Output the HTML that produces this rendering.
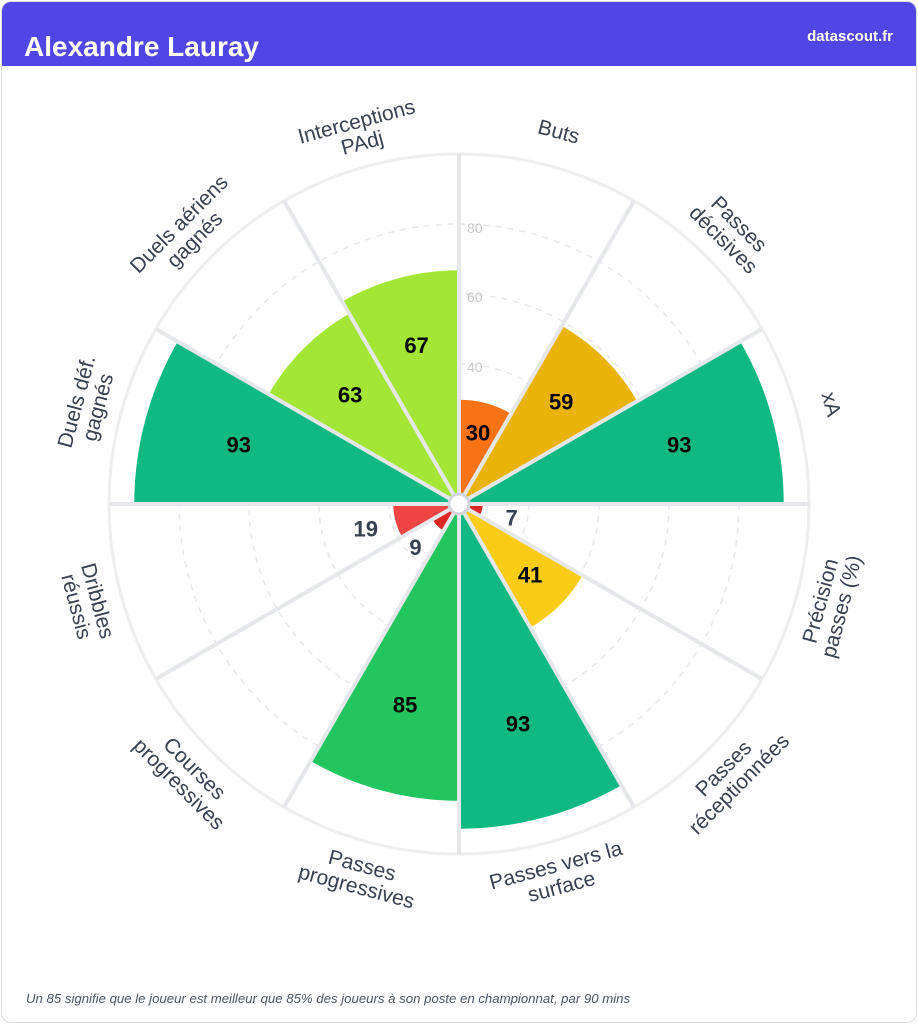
<!DOCTYPE html>
<html><head><meta charset="utf-8"><style>
body{margin:0;background:#fff;width:918px;height:1024px;overflow:hidden;font-family:"Liberation Sans",sans-serif}
.card{position:absolute;left:1px;top:1px;width:914px;height:1020px;border:1px solid #ddd;border-radius:10px;overflow:hidden}
.hd{position:absolute;left:0;top:0;width:914px;height:64px;background:#4f46e5}
.t{position:absolute;left:22px;top:29px;color:#fff;font-weight:bold;font-size:28px}
.d{position:absolute;right:23px;top:26px;color:#fff;font-weight:bold;font-size:15px}
.f{position:absolute;left:24px;top:989px;font-style:italic;font-size:13.2px;color:#4b5563}
svg{position:absolute;left:0;top:0}
</style></head><body>
<div class="card"><div class="hd"><div class="t">Alexandre Lauray</div><div class="d">datascout.fr</div></div>
<div class="f">Un 85 signifie que le joueur est meilleur que 85% des joueurs à son poste en championnat, par 90 mins</div></div>
<svg width="918" height="1024">
<g transform="translate(459,504)">
<g fill="none" stroke="#e5e7eb" stroke-width="1.5" stroke-dasharray="6,6">
<circle r="70"/><circle r="140"/><circle r="210"/><circle r="280"/></g>
<circle r="350" fill="none" stroke="#eeeeee" stroke-width="3"/>
<g font-size="14" fill="#c8c8c8"><text x="8" y="-132">40</text><text x="8" y="-202">60</text><text x="8" y="-271">80</text></g>
<g stroke="#fff" stroke-width="1.5">
<path transform="rotate(0)" fill="#f97316" d="M0,0 L0,-105 A105,105 0 0 1 52.5,-90.93Z"/>
<path transform="rotate(30)" fill="#eab308" d="M0,0 L0,-206.5 A206.5,206.5 0 0 1 103.25,-178.83Z"/>
<path transform="rotate(60)" fill="#10b981" d="M0,0 L0,-325.5 A325.5,325.5 0 0 1 162.75,-281.89Z"/>
<path transform="rotate(90)" fill="#dc2626" d="M0,0 L0,-24.5 A24.5,24.5 0 0 1 12.25,-21.22Z"/>
<path transform="rotate(120)" fill="#facc15" d="M0,0 L0,-143.5 A143.5,143.5 0 0 1 71.75,-124.27Z"/>
<path transform="rotate(150)" fill="#10b981" d="M0,0 L0,-325.5 A325.5,325.5 0 0 1 162.75,-281.89Z"/>
<path transform="rotate(180)" fill="#22c55e" d="M0,0 L0,-297.5 A297.5,297.5 0 0 1 148.75,-257.64Z"/>
<path transform="rotate(210)" fill="#dc2626" d="M0,0 L0,-31.5 A31.5,31.5 0 0 1 15.75,-27.28Z"/>
<path transform="rotate(240)" fill="#ef4444" d="M0,0 L0,-66.5 A66.5,66.5 0 0 1 33.25,-57.59Z"/>
<path transform="rotate(270)" fill="#10b981" d="M0,0 L0,-325.5 A325.5,325.5 0 0 1 162.75,-281.89Z"/>
<path transform="rotate(300)" fill="#a3e635" d="M0,0 L0,-220.5 A220.5,220.5 0 0 1 110.25,-190.96Z"/>
<path transform="rotate(330)" fill="#a3e635" d="M0,0 L0,-234.5 A234.5,234.5 0 0 1 117.25,-203.09Z"/>
</g>
<g stroke="#e5e7eb" stroke-width="4">
<line y2="-350" transform="rotate(0)"/><line y2="-350" transform="rotate(30)"/><line y2="-350" transform="rotate(60)"/>
<line y2="-350" transform="rotate(90)"/><line y2="-350" transform="rotate(120)"/><line y2="-350" transform="rotate(150)"/>
<line y2="-350" transform="rotate(180)"/><line y2="-350" transform="rotate(210)"/><line y2="-350" transform="rotate(240)"/>
<line y2="-350" transform="rotate(270)"/><line y2="-350" transform="rotate(300)"/><line y2="-350" transform="rotate(330)"/>
</g>
<circle r="10" fill="#fff" stroke="#d1d5db" stroke-width="3"/>
<g font-size="22" font-weight="bold" text-anchor="middle" dominant-baseline="central">
<text transform="rotate(15) translate(0,-73.5) rotate(-15)">30</text>
<text transform="rotate(45) translate(0,-144.5) rotate(-45)">59</text>
<text transform="rotate(75) translate(0,-228) rotate(-75)">93</text>
<text fill="#374151" transform="rotate(105) translate(0,-54.5) rotate(-105)">7</text>
<text transform="rotate(135) translate(0,-100.5) rotate(-135)">41</text>
<text transform="rotate(165) translate(0,-228) rotate(-165)">93</text>
<text transform="rotate(195) translate(0,-208) rotate(-195)">85</text>
<text fill="#374151" transform="rotate(225) translate(0,-61.5) rotate(-225)">9</text>
<text fill="#374151" transform="rotate(255) translate(0,-96.5) rotate(-255)">19</text>
<text transform="rotate(285) translate(0,-228) rotate(-285)">93</text>
<text transform="rotate(315) translate(0,-154) rotate(-315)">63</text>
<text transform="rotate(345) translate(0,-164) rotate(-345)">67</text>
</g>
<g font-size="21" fill="#374151" text-anchor="middle" dominant-baseline="central">
<text transform="rotate(15) translate(0,-385)">Buts</text>
<text transform="rotate(45) translate(0,-385)"><tspan x="0" dy="-11">Passes</tspan><tspan x="0" dy="22">décisives</tspan></text>
<text transform="rotate(75) translate(0,-385)">xA</text>
<text transform="rotate(105) translate(0,-385) rotate(180)"><tspan x="0" dy="-11">Précision</tspan><tspan x="0" dy="22">passes (%)</tspan></text>
<text transform="rotate(135) translate(0,-385) rotate(180)"><tspan x="0" dy="-11">Passes</tspan><tspan x="0" dy="22">réceptionnées</tspan></text>
<text transform="rotate(165) translate(0,-385) rotate(180)"><tspan x="0" dy="-11">Passes vers la</tspan><tspan x="0" dy="22">surface</tspan></text>
<text transform="rotate(195) translate(0,-385) rotate(180)"><tspan x="0" dy="-11">Passes</tspan><tspan x="0" dy="22">progressives</tspan></text>
<text transform="rotate(225) translate(0,-385) rotate(180)"><tspan x="0" dy="-11">Courses</tspan><tspan x="0" dy="22">progressives</tspan></text>
<text transform="rotate(255) translate(0,-385) rotate(180)"><tspan x="0" dy="-11">Dribbles</tspan><tspan x="0" dy="22">réussis</tspan></text>
<text transform="rotate(285) translate(0,-385)"><tspan x="0" dy="-11">Duels déf.</tspan><tspan x="0" dy="22">gagnés</tspan></text>
<text transform="rotate(315) translate(0,-385)"><tspan x="0" dy="-11">Duels aériens</tspan><tspan x="0" dy="22">gagnés</tspan></text>
<text transform="rotate(345) translate(0,-385)"><tspan x="0" dy="-11">Interceptions</tspan><tspan x="0" dy="22">PAdj</tspan></text>
</g>
</g>
</svg>
</body></html>
